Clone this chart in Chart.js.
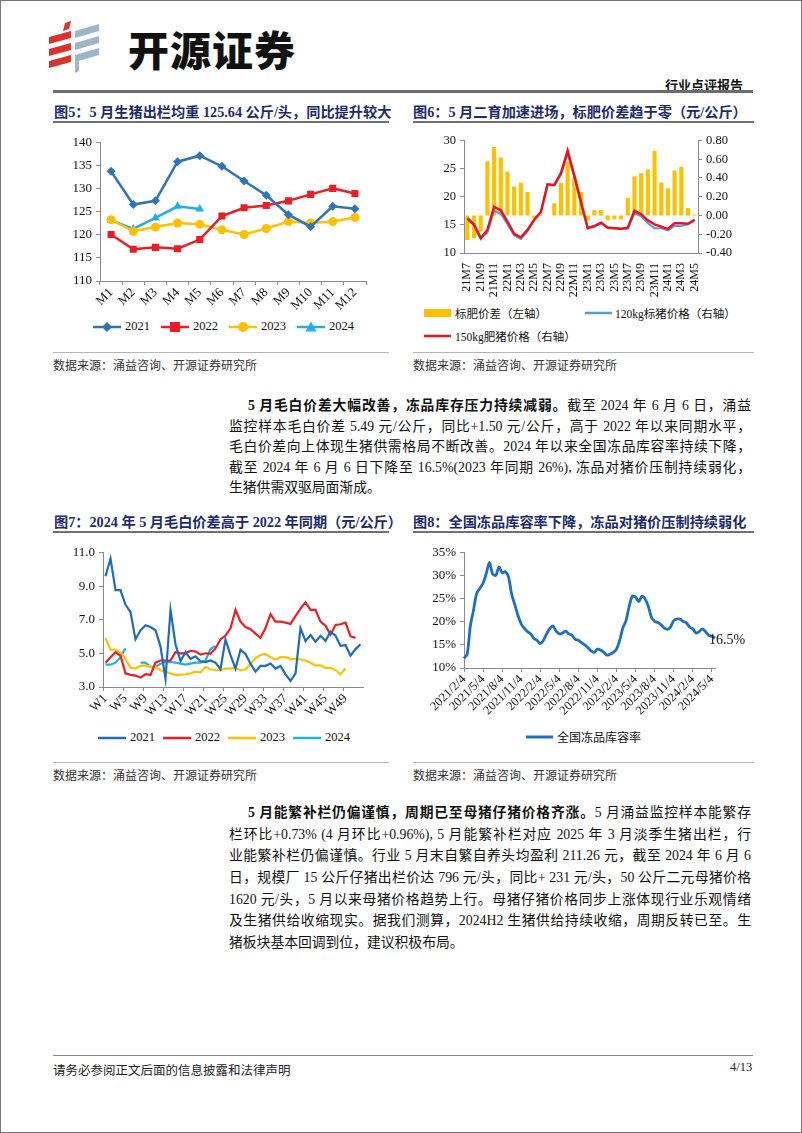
<!DOCTYPE html>
<html>
<head>
<meta charset="utf-8">
<script src="https://cdn.jsdelivr.net/npm/chart.js@4.4.1/dist/chart.umd.min.js"></script>
<style>
  html, body { margin: 0; padding: 0; background: #fff; }
  #page { position: relative; width: 800px; height: 1131px; border: 1px solid #777; overflow: hidden;
          font-family: "Liberation Serif", "Noto Sans CJK SC", serif; color: #111; background: #fff; }
  .a { position: absolute; }
  .ttl { font-weight: bold; color: #1d2b6e; font-size: 14.2px; white-space: nowrap; }
  .rule { background: #707070; height: 1.5px; }
  .thin { background: #b5b5b5; height: 1px; }
  .src { font-size: 12px; color: #333; white-space: nowrap; }
  .leg { font-size: 12.5px; white-space: nowrap; display: flex; align-items: center; }
  .leg span { display: inline-flex; align-items: center; }
  .leg.sm { font-size: 11.5px; }
  .para { left: 228px; width: 522px; font-size: 13.8px; }
  .para div { text-align: justify; text-align-last: justify; height: 1em; line-height: 1em; }
  .para div.last { text-align-last: left; }
  canvas { position: absolute; }
</style>
</head>
<body>
<div id="page">
  <!-- header -->
  <svg class="a" style="left:44px;top:20px" width="60" height="56">
    <polygon points="20,2 26,0 24,8 18,10" fill="#d8342c"/>
    <polygon points="4,16 26,10 26,17 4,23" fill="#d8342c"/>
    <polygon points="4,28 26,22 26,29 4,35" fill="#d8342c"/>
    <polygon points="4,40 26,34 26,41 4,47" fill="#d8342c"/>
    <polygon points="30,10 54,3 54,10 30,17" fill="#9db5c7"/>
    <polygon points="30,22 54,15 54,22 30,29" fill="#9db5c7"/>
    <polygon points="30,34 54,27 54,34 30,41" fill="#9db5c7"/>
    <polygon points="30,41 34,40 34,50 30,52" fill="#9db5c7"/>
  </svg>
  <div class="a" style="left:127px;top:17px;font-family:'Noto Sans CJK SC';font-weight:900;font-size:41px;letter-spacing:1px;color:#111">开源证券</div>
  <div class="a" style="left:664px;top:74px;font-size:13px;font-weight:bold;color:#111">行业点评报告</div>
  <div class="a" style="left:52px;top:89px;width:700px;height:2.5px;background:#6b6b6b"></div>

  <!-- chart titles row 1 -->
  <div class="a ttl" style="left:53px;top:100px">图5：5 月生猪出栏均重 125.64 公斤/头，同比提升较大</div>
  <div class="a rule" style="left:52px;top:120px;width:336px"></div>
  <div class="a ttl" style="left:412px;top:100px">图6：5 月二育加速进场，标肥价差趋于零（元/公斤）</div>
  <div class="a rule" style="left:412px;top:120px;width:341px"></div>

  <canvas id="c5" width="320" height="184" style="left:52px;top:130px"></canvas>
  <canvas id="c6" width="340" height="172" style="left:412px;top:128px"></canvas>

  <div class="a leg" id="leg5" style="left:92px;top:318px"></div>
  <div class="a leg sm" style="left:423px;top:304px">
    <span><svg width="28" height="10"><rect x="0" y="1" width="27" height="8" fill="#FFC000"/></svg></span>
    <span style="margin-left:3px">标肥价差（左轴）</span>
  </div>
  <div class="a leg sm" style="left:584px;top:304px">
    <span><svg width="28" height="10"><line x1="0" y1="5" x2="27" y2="5" stroke="#5B9BD5" stroke-width="2.5"/></svg></span>
    <span style="margin-left:2px">120kg标猪价格（右轴）</span>
  </div>
  <div class="a leg sm" style="left:423px;top:327px">
    <span><svg width="28" height="10"><line x1="0" y1="5" x2="27" y2="5" stroke="#E8131B" stroke-width="2.5"/></svg></span>
    <span style="margin-left:3px">150kg肥猪价格（右轴）</span>
  </div>

  <div class="a thin" style="left:52px;top:351px;width:336px"></div>
  <div class="a thin" style="left:412px;top:351px;width:341px"></div>
  <div class="a src" style="left:52px;top:355px">数据来源：涌益咨询、开源证券研究所</div>
  <div class="a src" style="left:412px;top:355px">数据来源：涌益咨询、开源证券研究所</div>

  <!-- paragraph 1 -->
  <div class="a para" style="top:398px">
    <div style="text-indent:19px;margin-bottom:6.8px"><b>5 月毛白价差大幅改善，冻品库存压力持续减弱。</b>截至 2024 年 6 月 6 日，涌益</div>
    <div style="margin-bottom:6.8px">监控样本毛白价差 5.49 元/公斤，同比+1.50 元/公斤，高于 2022 年以来同期水平，</div>
    <div style="margin-bottom:6.8px">毛白价差向上体现生猪供需格局不断改善。2024 年以来全国冻品库容率持续下降，</div>
    <div style="margin-bottom:6.8px">截至 2024 年 6 月 6 日下降至 16.5%(2023 年同期 26%), 冻品对猪价压制持续弱化，</div>
    <div class="last">生猪供需双驱局面渐成。</div>
  </div>

  <!-- chart titles row 2 -->
  <div class="a ttl" style="left:53px;top:510px">图7：2024 年 5 月毛白价差高于 2022 年同期（元/公斤）</div>
  <div class="a rule" style="left:52px;top:530px;width:336px"></div>
  <div class="a ttl" style="left:412px;top:510px">图8：全国冻品库容率下降，冻品对猪价压制持续弱化</div>
  <div class="a rule" style="left:412px;top:530px;width:341px"></div>

  <canvas id="c7" width="320" height="182" style="left:52px;top:540px"></canvas>
  <canvas id="c8" width="340" height="186" style="left:412px;top:540px"></canvas>

  <div class="a leg" id="leg7" style="left:97px;top:729px"></div>
  <div class="a leg" style="left:525px;top:727px;font-size:12px">
    <span><svg width="28" height="10"><line x1="0" y1="5" x2="27" y2="5" stroke="#1E6FBF" stroke-width="3"/></svg></span>
    <span style="margin-left:3px">全国冻品库容率</span>
  </div>

  <div class="a thin" style="left:52px;top:761px;width:336px"></div>
  <div class="a thin" style="left:412px;top:761px;width:341px"></div>
  <div class="a src" style="left:52px;top:765px">数据来源：涌益咨询、开源证券研究所</div>
  <div class="a src" style="left:412px;top:765px">数据来源：涌益咨询、开源证券研究所</div>

  <!-- paragraph 2 -->
  <div class="a para" style="top:805px">
    <div style="text-indent:19px;margin-bottom:7.9px"><b>5 月能繁补栏仍偏谨慎，周期已至母猪仔猪价格齐涨。</b>5 月涌益监控样本能繁存</div>
    <div style="margin-bottom:7.9px">栏环比+0.73% (4 月环比+0.96%), 5 月能繁补栏对应 2025 年 3 月淡季生猪出栏，行</div>
    <div style="margin-bottom:7.9px">业能繁补栏仍偏谨慎。行业 5 月末自繁自养头均盈利 211.26 元，截至 2024 年 6 月 6</div>
    <div style="margin-bottom:7.9px">日，规模厂 15 公斤仔猪出栏价达 796 元/头，同比+ 231 元/头，50 公斤二元母猪价格</div>
    <div style="margin-bottom:7.9px">1620 元/头，5 月以来母猪价格趋势上行。母猪仔猪价格同步上涨体现行业乐观情绪</div>
    <div style="margin-bottom:7.9px">及生猪供给收缩现实。据我们测算，2024H2 生猪供给持续收缩，周期反转已至。生</div>
    <div class="last">猪板块基本回调到位，建议积极布局。</div>
  </div>

  <!-- footer -->
  <div class="a" style="left:52px;top:1054px;width:700px;height:1px;background:#888"></div>
  <div class="a" style="left:52px;top:1059px;font-size:12.5px;color:#222">请务必参阅正文后面的信息披露和法律声明</div>
  <div class="a" style="left:729px;top:1059px;font-size:12.5px;color:#222">4/13</div>
</div>

<script>
// 图5 生猪出栏均重
const months = ['M1', 'M2', 'M3', 'M4', 'M5', 'M6', 'M7', 'M8', 'M9', 'M10', 'M11', 'M12'];
const weight2021 = [133.8, 126.6, 127.4, 135.9, 137.2, 134.9, 131.7, 128.6, 124.4, 121.8, 126.2, 125.7];
const weight2022 = [120.1, 116.9, 117.3, 117.0, 119.0, 124.1, 125.9, 126.4, 127.4, 128.8, 130.1, 129.0];
const weight2023 = [123.3, 120.8, 121.7, 122.6, 122.3, 121.1, 120.1, 121.4, 122.9, 122.6, 122.9, 123.8];
const weight2024 = [123.2, 121.3, 123.7, 126.2, 125.64];

// 图6 标肥价差
const spreadMonths = ['21M7', '21M8', '21M9', '21M10', '21M11', '21M12', '22M1', '22M2', '22M3', '22M4', '22M5', '22M6',
  '22M7', '22M8', '22M9', '22M10', '22M11', '22M12', '23M1', '23M2', '23M3', '23M4', '23M5', '23M6',
  '23M7', '23M8', '23M9', '23M10', '23M11', '23M12', '24M1', '24M2', '24M3', '24M4', '24M5'];
const fatSpread = [-0.26, -0.24, -0.17, 0.58, 0.73, 0.62, 0.47, 0.31, 0.35, 0.25, -0.03, 0.01,
  0.0, 0.13, 0.35, 0.57, 0.41, 0.25, -0.05, 0.06, 0.06, -0.05, -0.04, -0.04,
  0.19, 0.42, 0.45, 0.49, 0.69, 0.35, 0.29, 0.48, 0.52, 0.08, 0.01];
const price120 = [16.3, 15.2, 12.8, 13.6, 17.5, 17.0, 15.1, 13.1, 12.5, 13.9, 15.9, 17.3,
  22.2, 22.0, 23.9, 27.6, 23.4, 18.8, 14.5, 14.7, 15.3, 14.6, 14.4, 14.3,
  14.3, 17.1, 16.5, 15.3, 14.4, 14.4, 14.0, 14.8, 14.8, 15.1, 15.9];
const price150 = [16.1, 15.0, 12.6, 14.1, 18.2, 17.6, 15.6, 13.4, 12.8, 14.1, 15.9, 17.3,
  22.2, 22.1, 24.2, 28.2, 23.8, 19.1, 14.4, 14.8, 15.4, 14.5, 14.4, 14.3,
  14.5, 17.5, 16.9, 15.8, 15.1, 14.7, 14.3, 15.3, 15.3, 15.2, 15.9];

// 图7 毛白价差（周）
const weeks = [];
for (let i = 1; i <= 52; i++) weeks.push('W' + i);
const gap2021 = [9.6, 10.65, 8.77, 8.77, 7.9, 7.47, 5.84, 6.38, 6.68, 6.57, 6.38, 5.41, 3.49, 7.6, 5.55, 4.55,
  5.07, 4.68, 4.83, 4.53, 4.49, 4.58, 4.45, 4.06, 5.84, 4.9, 4.1, 5.22, 4.97, 4.39, 3.91, 4.26,
  4.26, 4.4, 4.1, 4.26, 3.75, 3.37, 3.8, 6.51, 5.74, 6.1, 5.7, 6.05, 5.75, 6.3, 6.06, 5.45,
  5.5, 4.87, 5.26, 5.55];
const gap2022 = [4.45, 4.78, 5.07, 4.87, 3.81, 3.72, 3.68, 3.56, 3.76, 3.72, 4.45, 4.58, 4.58, 4.58, 5.07, 5.01,
  5.01, 5.16, 5.12, 4.93, 5.01, 4.97, 5.3, 5.84, 6.07, 6.5, 7.6, 6.9, 6.57, 6.45, 6.18, 5.93,
  6.51, 7.34, 6.9, 6.9, 6.84, 6.76, 7.22, 7.67, 8.05, 7.6, 7.6, 6.9, 6.65, 6.12, 6.7, 6.74,
  6.84, 6.03, 5.93];
const gap2023 = [5.93, 5.22, 5.22, 5.07, 4.68, 4.14, 4.1, 4.26, 4.29, 4.2, 4.2, 4.0, 3.91, 3.81, 3.72, 3.72,
  3.76, 3.81, 3.91, 3.87, 4.2, 4.06, 4.0, 4.0, 4.1, 4.1, 4.14, 4.0, 4.04, 4.39, 4.72, 4.91,
  4.97, 4.78, 4.64, 4.78, 4.78, 4.68, 4.68, 4.64, 4.58, 4.45, 4.29, 4.29, 4.14, 4.14, 4.0, 3.76,
  4.1];
const gap2024 = [4.33, 4.33, 4.45, 4.78, 5.3, null, null, 4.45, 4.45, 4.2, 4.2, 4.39, 4.49, 4.49, 4.45, 4.39,
  4.33, 4.39, 4.45, 4.45, 4.58, 5.26, 5.45];

// 图8 全国冻品库容率（半月）
const storageDates = [];
for (let y = 2021; y <= 2024; y++) {
  for (let m = (y === 2021 ? 2 : 1); m <= (y === 2024 ? 5 : 12); m++) {
    storageDates.push(y + '/' + m + '/4', y + '/' + m + '/19');
  }
}
const storageRate = [12.1, 13.0, 19.1, 22.6, 26.2, 27.3, 28.4, 30.5, 32.9, 30.4,
  30.1, 31.9, 30.7, 30.9, 29.8, 26.0, 23.7, 21.4, 19.6, 18.6,
  17.9, 17.4, 16.4, 16.0, 15.3, 16.0, 17.4, 18.6, 19.1, 18.0,
  17.4, 17.6, 18.0, 17.4, 17.1, 16.2, 16.0, 15.5, 15.0, 14.4,
  13.7, 13.4, 14.1, 13.9, 13.4, 12.8, 13.0, 13.4, 14.1, 16.0,
  18.7, 20.3, 23.4, 25.6, 25.4, 24.4, 25.6, 25.0, 23.4, 21.0,
  20.1, 19.9, 19.4, 18.7, 18.4, 18.9, 20.3, 20.6, 20.6, 20.1,
  19.8, 18.9, 18.5, 17.6, 17.9, 18.5, 17.9, 17.1, 16.9, 16.5];

Chart.defaults.font.family = '"Liberation Serif", "Noto Sans CJK SC", serif';
Chart.defaults.color = '#111';
Chart.defaults.animation = false;
Chart.defaults.plugins.legend.display = false;
Chart.defaults.plugins.tooltip.enabled = false;

const axisGray = '#8a8a8a';
const fixW = w => s => { s.width = w; };
const fixH = h => s => { s.height = h; };

// legends (html)
function marker(shape, color) {
  let m = '';
  if (shape === 'diamond') m = `<polygon points="14,1 19,6 14,11 9,6" fill="${color}"/>`;
  if (shape === 'square') m = `<rect x="9" y="1" width="10" height="10" fill="${color}"/>`;
  if (shape === 'circle') m = `<circle cx="14" cy="6" r="5" fill="${color}"/>`;
  if (shape === 'triangle') m = `<polygon points="14,0.5 19.5,10.5 8.5,10.5" fill="${color}"/>`;
  return `<svg width="28" height="12"><line x1="0" y1="6" x2="28" y2="6" stroke="${color}" stroke-width="2.5"/>${m}</svg>`;
}
function buildLegend(id, names, colors, shapes, gap) {
  document.getElementById(id).innerHTML = names.map((n, i) =>
    `<span style="margin-right:${gap}px">${marker(shapes[i], colors[i])}<span style="margin-left:4px">${n}</span></span>`).join('');
}
const years = ['2021', '2022', '2023', '2024'];
const colors5 = ['#2E75B6', '#EE1C25', '#FFC000', '#1FB0EC'];
buildLegend('leg5', years, colors5, ['diamond', 'square', 'circle', 'triangle'], 11);
const colors7 = ['#1F6DB5', '#EE1C25', '#FFC000', '#20B0EE'];
buildLegend('leg7', years, colors7, ['', '', '', ''], 8);

// 图5
new Chart(document.getElementById('c5'), {
  type: 'line',
  data: {
    labels: months,
    datasets: [
      { data: weight2021, borderColor: colors5[0], backgroundColor: colors5[0], pointStyle: 'rectRot', pointRadius: 4.5 },
      { data: weight2022, borderColor: colors5[1], backgroundColor: colors5[1], pointStyle: 'rect', pointRadius: 5 },
      { data: weight2023, borderColor: colors5[2], backgroundColor: colors5[2], pointStyle: 'circle', pointRadius: 4.5 },
      { data: weight2024, borderColor: colors5[3], backgroundColor: colors5[3], pointStyle: 'triangle', pointRadius: 5 }
    ].map(d => Object.assign(d, { borderWidth: 2.5, pointBorderWidth: 0, tension: 0 }))
  },
  options: {
    responsive: false,
    layout: { padding: { top: 8, right: 7 } },
    scales: {
      x: {
        offset: true,
        grid: { drawOnChartArea: false, offset: true, color: axisGray, tickLength: 4 },
        border: { color: axisGray },
        ticks: { minRotation: 45, maxRotation: 45, autoSkip: false, font: { size: 13 }, padding: 0 },
        afterFit: fixH(34)
      },
      y: {
        min: 110, max: 140,
        grid: { drawOnChartArea: false, color: axisGray, tickLength: 4 },
        border: { color: axisGray },
        ticks: { stepSize: 5, font: { size: 13 }, padding: 4 },
        afterFit: fixW(47)
      }
    }
  }
});

// 图6
new Chart(document.getElementById('c6'), {
  type: 'bar',
  data: {
    labels: spreadMonths,
    datasets: [
      { type: 'line', data: price150, yAxisID: 'y', borderColor: '#E8131B', borderWidth: 2.5, pointRadius: 0, tension: 0, order: 1 },
      { type: 'line', data: price120, yAxisID: 'y', borderColor: '#5B9BD5', borderWidth: 2, pointRadius: 0, tension: 0, order: 2 },
      { type: 'bar', data: fatSpread, yAxisID: 'y1', backgroundColor: '#FFC000', barPercentage: 0.62, categoryPercentage: 1, order: 3 }
    ]
  },
  options: {
    responsive: false,
    layout: { padding: { top: 10 } },
    scales: {
      x: {
        grid: { display: false },
        border: { color: axisGray },
        ticks: { minRotation: 90, maxRotation: 90, autoSkip: false, font: { size: 12 }, padding: 2,
          callback: function (v, i) { return i % 2 === 0 ? this.getLabelForValue(v) : ''; } },
        afterFit: fixH(48)
      },
      y: {
        position: 'left', min: 10, max: 30,
        grid: { drawOnChartArea: false, color: axisGray, tickLength: 4 },
        border: { color: axisGray },
        ticks: { stepSize: 5, font: { size: 12.5 }, padding: 4 },
        afterFit: fixW(51)
      },
      y1: {
        position: 'right', min: -0.4, max: 0.8,
        grid: { drawOnChartArea: false, color: axisGray, tickLength: 4 },
        border: { color: axisGray },
        ticks: { stepSize: 0.2, font: { size: 12.5 }, padding: 4, callback: v => v.toFixed(2) },
        afterFit: fixW(55)
      }
    }
  }
});

// 图7
new Chart(document.getElementById('c7'), {
  type: 'line',
  data: {
    labels: weeks,
    datasets: [gap2021, gap2022, gap2023, gap2024].map((d, i) => ({
      data: d, borderColor: colors7[i], borderWidth: 2.2, pointRadius: 0, tension: 0, spanGaps: false
    }))
  },
  options: {
    responsive: false,
    layout: { padding: { top: 8, right: 10 } },
    scales: {
      x: {
        offset: true,
        grid: { drawOnChartArea: false, offset: true, tickLength: 4,
          color: c => (c.index % 4 === 0 ? axisGray : 'rgba(0,0,0,0)') },
        border: { color: axisGray },
        ticks: { minRotation: 45, maxRotation: 45, autoSkip: false, font: { size: 13 }, padding: 0,
          callback: function (v, i) { return i % 4 === 0 ? this.getLabelForValue(v) : ''; } },
        afterFit: fixH(36)
      },
      y: {
        min: 3, max: 11,
        grid: { drawOnChartArea: false, color: axisGray, tickLength: 4 },
        border: { color: axisGray },
        ticks: { stepSize: 2, font: { size: 13 }, padding: 4, callback: v => v.toFixed(1) },
        afterFit: fixW(50)
      }
    }
  }
});

// 图8
const endLabel = {
  id: 'endLabel',
  afterDatasetsDraw(chart) {
    const meta = chart.getDatasetMeta(0);
    const pt = meta.data[meta.data.length - 1];
    const ctx = chart.ctx;
    ctx.save();
    ctx.font = '14px "Liberation Serif"';
    ctx.fillStyle = '#111';
    ctx.textBaseline = 'middle';
    ctx.fillText(storageRate[storageRate.length - 1].toFixed(1) + '%', pt.x - 6, pt.y + 2);
    ctx.restore();
  }
};
new Chart(document.getElementById('c8'), {
  type: 'line',
  data: {
    labels: storageDates,
    datasets: [{ data: storageRate, borderColor: '#1E6FBF', borderWidth: 2.8, pointRadius: 0, tension: 0.3 }]
  },
  options: {
    responsive: false,
    layout: { padding: { top: 8, right: 38 } },
    scales: {
      x: {
        offset: false,
        grid: { drawOnChartArea: false, tickLength: 4,
          color: c => (c.index % 6 === 0 ? axisGray : 'rgba(0,0,0,0)') },
        border: { color: axisGray },
        ticks: { minRotation: 45, maxRotation: 45, autoSkip: false, font: { size: 12.5 }, padding: 0,
          callback: function (v, i) { return i % 6 === 0 ? this.getLabelForValue(v) : ''; } },
        afterFit: fixH(59)
      },
      y: {
        min: 10, max: 35,
        grid: { drawOnChartArea: false, color: axisGray, tickLength: 4 },
        border: { color: axisGray },
        ticks: { stepSize: 5, font: { size: 13 }, padding: 4, callback: v => v + '%' },
        afterFit: fixW(51)
      }
    }
  },
  plugins: [endLabel]
});
</script>
</body>
</html>
